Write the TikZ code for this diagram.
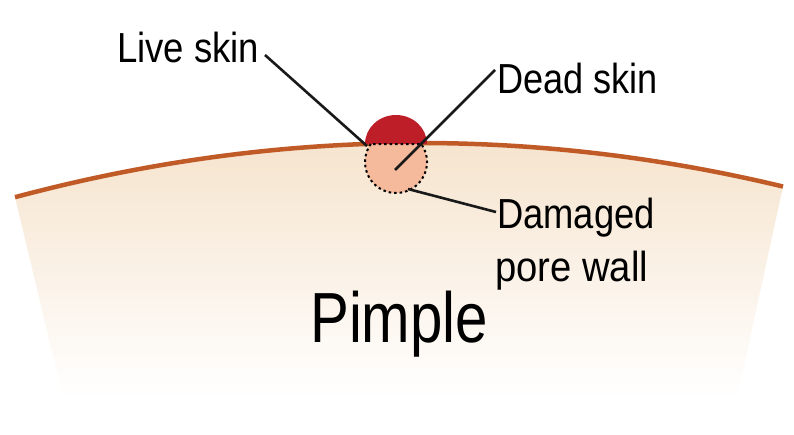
\documentclass[tikz,border=0pt]{standalone}
\usepackage{fontspec}
\setmainfont{Liberation Sans}
\definecolor{skintan}{RGB}{246,228,206}
\definecolor{skinedge}{RGB}{192,90,38}
\definecolor{porepink}{RGB}{245,185,155}
\definecolor{capred}{RGB}{190,30,40}

\begin{document}
\begin{tikzpicture}[x=1pt,y=-1pt,
  tag/.style={anchor=base west, inner sep=0pt, text=black,
              font=\fontsize{42}{44}\selectfont},
  bigtag/.style={anchor=base west, inner sep=0pt, text=black,
              font=\fontsize{71}{74}\selectfont},
  leader/.style={draw=black!90, line width=2.6pt},
  surface/.style={draw=skinedge, line width=4.5pt}]
\useasboundingbox (0,0) rectangle (794,434);

% skin section, fading downwards
\shade[top color=skintan, bottom color=white]
  plot[domain=15:783, samples=90] (\x,{143+(0.018166*(\x-420))^2})
  -- (737,398) -- (63,398) -- cycle;
\draw[surface]
  plot[domain=15:783, samples=90] (\x,{143+(0.018166*(\x-420))^2});

% the pore: round body under the surface, red cap above it
\fill[porepink] (396,162) circle[radius=31];
\fill[capred] (365,144)
  arc[start angle=180, end angle=360, x radius=31, y radius=29] -- cycle;
\draw[black, line width=2pt, dash pattern=on 2.5pt off 3pt]
  (370.8,144) arc[start angle=215.5, end angle=-35.5, radius=31]
  -- cycle;

% labels
\node[tag] (live) at (117,62) {\scalebox{0.87}[1]{Live skin}};
\node[tag] (dead) at (497,93) {\scalebox{0.86}[1]{Dead skin}};
\node[tag] (damaged) at (497,228) {\scalebox{0.865}[1]{Damaged}};
\node[tag] (porewall) at (495,281) {\scalebox{0.91}[1]{pore wall}};
\node[bigtag] (pimple) at (310,342) {\scalebox{0.82}[1]{Pimple}};

% leader lines
\coordinate (liveA) at (265,55);
\coordinate (liveB) at (367,146);
\coordinate (deadA) at (495,70);
\coordinate (deadB) at (395,170);
\coordinate (wallA) at (408,189);
\coordinate (wallB) at (496,212);
\draw[leader] (liveA) -- (liveB);
\draw[leader] (deadA) -- (deadB);
\draw[leader] (wallA) -- (wallB);
\end{tikzpicture}
\end{document}
